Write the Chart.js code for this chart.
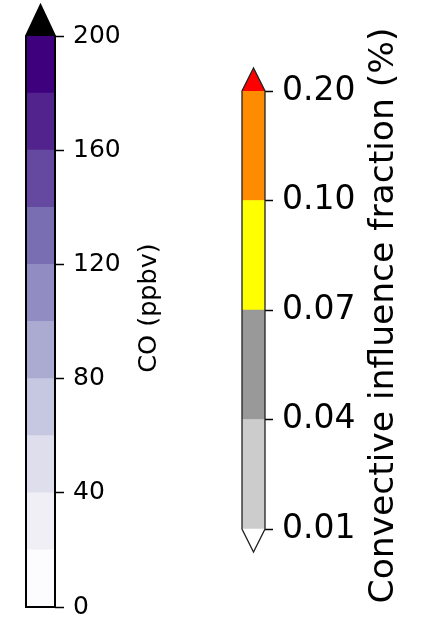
<!DOCTYPE html>
<html>
<head>
<meta charset="utf-8">
<script src="https://cdn.jsdelivr.net/npm/chart.js@4.4.0/dist/chart.umd.min.js"></script>
<style>
  body { margin: 0; background: #fff; }
  #wrap { position: relative; width: 421px; height: 620px; }
  canvas { position: absolute; top: 0; }
</style>
</head>
<body>
<div id="wrap">
  <canvas id="co" width="210" height="620" style="left:0"></canvas>
  <canvas id="cif" width="211" height="620" style="left:210px"></canvas>
</div>
<script>
// CO colorbar (ppbv), 10 bins + extend max
const coEdges = [0, 20, 40, 60, 80, 100, 120, 140, 160, 180, 200];
const coColors = ['#fcfbfd', '#f0eff6', '#dfdeed', '#c6c7e1', '#abaad1',
                  '#918dc2', '#796eb2', '#65489f', '#52238d', '#3f007d'];
const coTicks = [0, 40, 80, 120, 160, 200];
const coOver = '#000000';

// convective influence fraction (%), levels drawn evenly spaced
const cifLevels = ['0.01', '0.04', '0.07', '0.10', '0.20'];
const cifColors = ['#cccccc', '#999999', '#ffff00', '#ff8c00'];
const cifOver = '#ff0000';
const cifUnder = '#ffffff';

const FONT = 'DejaVu Sans';

// draws outline + triangle extensions of a colorbar
const colorbarFrame = {
  id: 'colorbarFrame',
  afterDatasetsDraw(chart, args, opts) {
    const { ctx, chartArea: a } = chart;
    const mid = (a.left + a.right) / 2;
    ctx.save();
    if (opts.over) {
      ctx.beginPath();
      ctx.moveTo(a.left, a.top);
      ctx.lineTo(mid, a.top - opts.ext);
      ctx.lineTo(a.right, a.top);
      ctx.closePath();
      ctx.fillStyle = opts.over;
      ctx.fill();
    }
    if (opts.under) {
      ctx.beginPath();
      ctx.moveTo(a.left, a.bottom);
      ctx.lineTo(mid, a.bottom + opts.ext);
      ctx.lineTo(a.right, a.bottom);
      ctx.closePath();
      ctx.fillStyle = opts.under;
      ctx.fill();
    }
    ctx.beginPath();
    ctx.moveTo(a.left, a.bottom);
    ctx.lineTo(a.left, a.top);
    if (opts.over) ctx.lineTo(mid, a.top - opts.ext);
    ctx.lineTo(a.right, a.top);
    ctx.lineTo(a.right, a.bottom);
    if (opts.under) ctx.lineTo(mid, a.bottom + opts.ext);
    ctx.closePath();
    ctx.strokeStyle = opts.color;
    ctx.lineWidth = opts.width;
    ctx.lineJoin = 'miter';
    ctx.stroke();
    ctx.restore();
  }
};

// rotated axis label, reading bottom to top
const sideLabel = {
  id: 'sideLabel',
  afterDraw(chart, args, opts) {
    const ctx = chart.ctx;
    ctx.save();
    ctx.translate(opts.x, opts.y);
    ctx.rotate(-Math.PI / 2);
    ctx.font = opts.size + 'px "' + FONT + '"';
    ctx.fillStyle = '#000';
    ctx.textAlign = 'center';
    ctx.textBaseline = 'alphabetic';
    ctx.fillText(opts.text, 0, 0);
    ctx.restore();
  }
};

function bars(edges, colors) {
  return colors.map((c, i) => ({
    data: [[edges[i], edges[i + 1]]],
    backgroundColor: c,
    borderWidth: 0,
    grouped: false,
    categoryPercentage: 1,
    barPercentage: 1
  }));
}

function makeBar(id, cfg) {
  return new Chart(document.getElementById(id), {
    type: 'bar',
    data: { labels: [''], datasets: bars(cfg.edges, cfg.colors) },
    options: {
      responsive: false,
      animation: false,
      layout: { padding: cfg.padding },
      plugins: {
        legend: { display: false },
        tooltip: { enabled: false },
        colorbarFrame: cfg.frame,
        sideLabel: cfg.label
      },
      scales: {
        x: { display: false },
        y: {
          position: 'right',
          min: cfg.min,
          max: cfg.max,
          afterBuildTicks: s => { s.ticks = cfg.ticks.map(v => ({ value: v })); },
          afterFit: s => { s.width = cfg.axisWidth; s.paddingTop = 0; s.paddingBottom = 0; },
          border: { display: false },
          grid: {
            drawOnChartArea: false,
            drawTicks: true,
            tickLength: cfg.tickLength,
            tickColor: '#000',
            tickWidth: 1.5
          },
          ticks: {
            padding: cfg.tickPad,
            color: '#000',
            font: { family: FONT, size: cfg.fontSize },
            callback: cfg.fmt
          }
        }
      }
    },
    plugins: [colorbarFrame, sideLabel]
  });
}

makeBar('co', {
  edges: coEdges,
  colors: coColors,
  min: 0, max: 200,
  ticks: coTicks,
  fmt: v => String(v),
  padding: { left: 26, top: 36, bottom: 13, right: 0 },
  axisWidth: 155,
  tickLength: 9, tickPad: 9, fontSize: 25,
  frame: { over: coOver, ext: 31, color: '#000', width: 2 },
  label: { text: 'CO (ppbv)', x: 156, y: 308, size: 25.5 }
});

makeBar('cif', {
  edges: cifLevels.map((l, i) => i),
  colors: cifColors,
  min: 0, max: cifLevels.length - 1,
  ticks: cifLevels.map((l, i) => i),
  fmt: v => cifLevels[v],
  padding: { left: 32, top: 91, bottom: 91, right: 0 },
  axisWidth: 156,
  tickLength: 8, tickPad: 9, fontSize: 33,
  frame: { over: cifOver, under: cifUnder, ext: 23, color: '#222', width: 1.3 },
  label: { text: 'Convective influence fraction (%)', x: 183, y: 315.5, size: 34.5 }
});
</script>
</body>
</html>
